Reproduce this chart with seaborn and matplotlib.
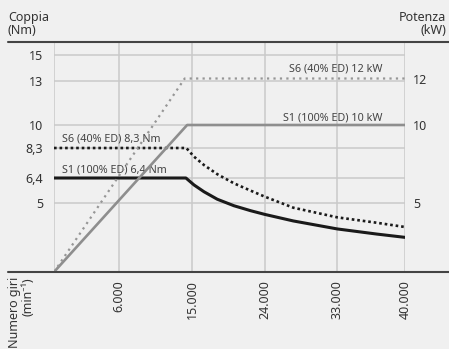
import numpy as np
import pandas as pd
import matplotlib
matplotlib.use("Agg")
import matplotlib.pyplot as plt
from matplotlib.lines import Line2D
import seaborn as sns

# ---------------- data ----------------
x_ticks = [0, 6000, 15000, 24000, 33000, 40000]
x_tick_labels = ["", "6.000", "15.000", "24.000", "33.000", "40.000"]
torque_ticks = [5, 6.4, 8.3, 10, 13, 15]
torque_tick_labels = ["5", "6,4", "8,3", "10", "13", "15"]
power_ticks = [5, 10, 12]
power_tick_labels = ["5", "10", "12"]

rpm_s1 = [0, 14250, 15250, 16480, 18120, 20180, 22240, 24000, 27520,
          33000, 37070, 40000]
torque_s1 = [6.4, 6.4, 6.01, 5.63, 5.21, 4.80, 4.44, 4.17, 3.70,
             3.12, 2.75, 2.51]
rpm_s6 = [0, 14300, 15250, 16480, 18120, 20180, 22240, 24000, 27520,
          33000, 37070, 40000]
torque_s6 = [8.3, 8.3, 7.75, 7.22, 6.64, 6.10, 5.69, 5.35, 4.66,
             3.96, 3.57, 3.26]
rpm_p1 = [0, 14400, 40000]
power_p1 = [0, 10, 10]
rpm_p6 = [0, 14100, 40000]
power_p6 = [0, 12, 12]

# ---------------- schematic (non-linear) axis layout ----------------
x_map_val = np.array([0, 6000, 15000, 24000, 33000, 40000], float)
x_map_pos = np.array([0, 65, 138, 211, 283.3, 351], float)
t_map_val = np.array([0, 5, 6.4, 8.3, 10, 13, 15, 16], float)
t_map_pos = np.array([0, 69, 94, 124, 147, 191, 217, 230], float)
p_map_val = np.array([0, 5, 10, 12, 13.6], float)
p_map_pos = np.array([0, 69, 147, 193.5, 230], float)


def make_scale(vals, pos):
    def fwd(v):
        return np.interp(v, vals, pos)

    def inv(p):
        return np.interp(p, pos, vals)
    return fwd, inv


sns.set_style("white")
plt.rcParams["font.family"] = ["Noto Sans", "DejaVu Sans"]

BG = "#f0f0f0"
GRID = "#c9c9c9"
TXT = "#333333"

W, H = 449, 349
fig = plt.figure(figsize=(W / 100, H / 100), dpi=100, facecolor=BG)
ax = fig.add_axes([54 / W, 1 - 272 / H, (405 - 54) / W, 230 / H])
ax.set_facecolor(BG)
ax.set_xscale("function", functions=make_scale(x_map_val, x_map_pos))
ax.set_yscale("function", functions=make_scale(t_map_val, t_map_pos))
ax.set_xlim(0, 40000)
ax.set_ylim(0, 16)

ax2 = ax.twinx()
ax2.set_yscale("function", functions=make_scale(p_map_val, p_map_pos))
ax2.set_ylim(0, 13.6)

# grid
for xv in x_ticks:
    ax.axvline(xv, color=GRID, lw=1.1, zorder=0)
for yv in torque_ticks:
    ax.axhline(yv, color=GRID, lw=1.1, zorder=0)

df_s1 = pd.DataFrame({"rpm": rpm_s1, "val": torque_s1})
df_s6 = pd.DataFrame({"rpm": rpm_s6, "val": torque_s6})
df_p1 = pd.DataFrame({"rpm": rpm_p1, "val": power_p1})
df_p6 = pd.DataFrame({"rpm": rpm_p6, "val": power_p6})

sns.lineplot(data=df_p1, x="rpm", y="val", ax=ax2, color="#8e8e8e", lw=1.9,
             sort=False, estimator=None)
sns.lineplot(data=df_p6, x="rpm", y="val", ax=ax2, color="#969696", lw=1.6,
             sort=False, estimator=None, linestyle=(0, (1, 1.9)))
sns.lineplot(data=df_s1, x="rpm", y="val", ax=ax, color="#1a1a1a", lw=2.2,
             sort=False, estimator=None)
sns.lineplot(data=df_s6, x="rpm", y="val", ax=ax, color="#1a1a1a", lw=1.9,
             sort=False, estimator=None, linestyle=(0, (1, 1.1)))

# axes cosmetics
for a in (ax, ax2):
    a.set_xlabel("")
    a.set_ylabel("")
    for s in a.spines.values():
        s.set_visible(False)
    a.tick_params(length=0, colors=TXT, labelsize=9)

ax.set_xticks(x_ticks)
ax.set_xticklabels(x_tick_labels, rotation=90, va="top", ha="center")
ax.tick_params(axis="x", pad=6)
ax.set_yticks(torque_ticks)
ax.set_yticklabels(torque_tick_labels)
ax.tick_params(axis="y", pad=8)
ax2.set_yticks(power_ticks)
ax2.set_yticklabels(power_tick_labels)
ax2.tick_params(axis="y", pad=6)
ax.grid(False)
ax2.grid(False)

# annotations
ann_kw = dict(textcoords="offset points", fontsize=7.8, color="#444444")
ax.annotate("S6 (40% ED) 8,3 Nm", xy=(700, 8.3), xytext=(0, 2.5), ha="left",
            va="bottom", **ann_kw)
ax.annotate("S1 (100% ED) 6,4 Nm", xy=(700, 6.4), xytext=(0, 1.5), ha="left",
            va="bottom", **ann_kw)
ax2.annotate("S1 (100% ED) 10 kW", xy=(37700, 10), xytext=(0, 1), ha="right",
             va="bottom", **ann_kw)
ax2.annotate("S6 (40% ED) 12 kW", xy=(37700, 12), xytext=(0, 3), ha="right",
             va="bottom", **ann_kw)

# frame lines extending across the figure
for yp in (42, 272):
    fig.add_artist(Line2D([8 / W, 1], [1 - yp / H, 1 - yp / H],
                          transform=fig.transFigure, color="#444444", lw=1.5))

fig.text(8 / W, 1 - 11 / H, "Coppia\n(Nm)", ha="left", va="top", fontsize=9,
         color=TXT, linespacing=1.0)
fig.text(446 / W, 1 - 11 / H, "Potenza\n(kW)", ha="right", va="top",
         fontsize=9, color=TXT, linespacing=1.0, multialignment="right")
fig.text(8 / W, 1 - 277 / H, "Numero giri\n(min⁻¹)", ha="left", va="top",
         rotation=90, fontsize=9, color=TXT, linespacing=1.0,
         multialignment="right", rotation_mode="default")

fig.savefig("out.png", dpi=100, facecolor=BG)
